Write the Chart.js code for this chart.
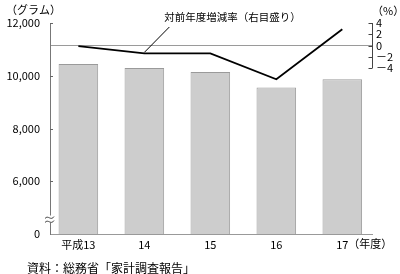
<!DOCTYPE html>
<html><head><meta charset="utf-8">
<script src="https://cdn.jsdelivr.net/npm/chart.js@4/dist/chart.umd.min.js"></script>
<style>html,body{margin:0;padding:0;background:#fff}#wrap{width:400px;height:274px}</style>
</head><body><div id="wrap"><canvas id="c" width="400" height="274"></canvas></div>
<script>
const categories = ['平成13', '14', '15', '16', '17'];
const consumption = [10450, 10290, 10145, 9550, 9870];   // グラム (左目盛り)
const changeRate = [-0.1, -1.4, -1.4, -6.0, 2.9];        // 対前年度増減率 % (右目盛り)
const leftTicks = [4000, 6000, 8000, 10000, 12000];
const leftTickLabels = ['0', '6,000', '8,000', '10,000', '12,000'];
const rightTicks = [-4, -2, 0, 2, 4];
const rightTickLabels = ['－4', '－2', '0', '2', '4'];

const FONT = '"Noto Sans CJK JP", "Noto Sans", sans-serif';
Chart.defaults.font.family = FONT;
Chart.defaults.font.size = 11;
Chart.defaults.color = '#000';

const decor = {
  id: 'decor',
  afterDraw(chart) {
    const ctx = chart.ctx, a = chart.chartArea;
    const xs = chart.scales.x, ys = chart.scales.y, y1 = chart.scales.y1;
    ctx.save();
    // left inward ticks
    ctx.strokeStyle = '#666'; ctx.lineWidth = 1;
    leftTicks.forEach(v => {
      if (v === leftTicks[0]) return;
      const y = Math.round(ys.getPixelForValue(v)) + 0.5;
      ctx.beginPath(); ctx.moveTo(a.left, y); ctx.lineTo(a.left + 3, y); ctx.stroke();
    });
    // right bracket axis
    const rx = Math.round(a.right) + 0.5;
    ctx.strokeStyle = '#444';
    ctx.beginPath();
    ctx.moveTo(rx, y1.getPixelForValue(rightTicks[rightTicks.length - 1]));
    ctx.lineTo(rx, y1.getPixelForValue(rightTicks[0]));
    ctx.stroke();
    rightTicks.forEach(v => {
      const y = Math.round(y1.getPixelForValue(v)) + 0.5;
      ctx.beginPath(); ctx.moveTo(rx - 4, y); ctx.lineTo(rx, y); ctx.stroke();
    });
    // axis break mark
    const by = ys.getPixelForValue(4550);
    ctx.fillStyle = '#fff';
    ctx.fillRect(a.left - 4, by - 4, 8, 7);
    ctx.strokeStyle = '#444';
    [-2, 2].forEach(d => {
      ctx.beginPath();
      ctx.moveTo(a.left - 5, by + d + 1);
      ctx.bezierCurveTo(a.left - 2, by + d - 3, a.left + 1, by + d + 4, a.left + 4, by + d - 1);
      ctx.stroke();
    });
    // leader line + annotation
    const px = xs.getPixelForValue(1), py = y1.getPixelForValue(changeRate[1]);
    ctx.strokeStyle = '#000'; ctx.lineWidth = 1;
    ctx.beginPath(); ctx.moveTo(px, py - 1); ctx.lineTo(px + 25, 27); ctx.stroke();
    ctx.fillStyle = '#000';
    ctx.font = '10.5px ' + FONT;
    ctx.textBaseline = 'middle'; ctx.textAlign = 'left';
    ctx.fillText('対前年度増減率（右目盛り）', px + 20, 17);
    // units
    ctx.font = '11px ' + FONT;
    ctx.fillText('（グラム）', 6, 10);
    ctx.fillText('（%）', 372, 11);
    // (年度) after last category label
    const lx = xs.getPixelForValue(categories.length - 1);
    ctx.fillText('（年度）', lx + 6, 244);
    // source
    ctx.font = '12px ' + FONT;
    ctx.fillText('資料：総務省「家計調査報告」', 27, 268);
    ctx.restore();
  }
};

new Chart(document.getElementById('c'), {
  data: {
    datasets: [
      {
        type: 'line',
        data: changeRate.map((v, i) => ({ x: i, y: v })),
        yAxisID: 'y1',
        borderColor: '#000',
        borderWidth: 1.8,
        pointRadius: 0,
        tension: 0,
        order: 0
      },
      {
        type: 'bar',
        data: consumption.map((v, i) => ({ x: i, y: v })),
        yAxisID: 'y',
        backgroundColor: '#cdcdcd',
        borderColor: '#9a9a9a',
        borderWidth: 1,
        barPercentage: 0.6,
        categoryPercentage: 1.0,
        order: 1
      }
    ]
  },
  options: {
    responsive: false,
    devicePixelRatio: 1,
    animation: false,
    layout: { padding: { top: 23, left: 0, right: 0, bottom: 0 } },
    plugins: { legend: { display: false }, tooltip: { enabled: false } },
    scales: {
      x: {
        type: 'linear',
        offset: false,
        min: -0.43, max: 4.45,
        afterBuildTicks: s => { s.ticks = categories.map((c, i) => ({ value: i })); },
        afterFit: s => { s.height = 40; },
        ticks: {
          autoSkip: false, maxRotation: 0, padding: 4,
          callback: (v, i) => categories[i]
        },
        grid: { drawOnChartArea: false, drawTicks: false, offset: false },
        border: { color: '#999' }
      },
      y: {
        position: 'left',
        min: 4000, max: 12000,
        afterBuildTicks: s => { s.ticks = leftTicks.map(v => ({ value: v })); },
        afterFit: s => { s.width = 50; },
        ticks: { padding: 10, callback: (v, i) => leftTickLabels[i] },
        grid: { drawOnChartArea: false, drawTicks: false },
        border: { color: '#777' }
      },
      y1: {
        position: 'right',
        min: -33.5, max: 4,
        afterBuildTicks: s => { s.ticks = rightTicks.map(v => ({ value: v })); },
        afterFit: s => { s.width = 28; },
        ticks: { padding: 4, callback: (v, i) => rightTickLabels[i] },
        grid: {
          drawOnChartArea: true, drawTicks: false,
          color: c => (c.tick && c.tick.value === 0) ? '#9a9a9a' : 'rgba(0,0,0,0)'
        },
        border: { display: false }
      }
    }
  },
  plugins: [decor]
});
</script>
</body></html>
